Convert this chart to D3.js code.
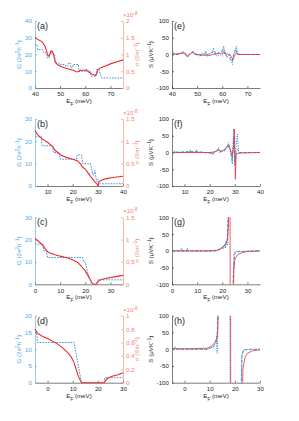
<!DOCTYPE html>
<html>
<head>
<meta charset="utf-8">
<script src="https://cdn.jsdelivr.net/npm/d3@7"></script>
<style>
body { margin: 0; background: #fff; }
svg text { font-family: "Liberation Sans", Arial, sans-serif; }
</style>
</head>
<body>
<svg id="chart" width="299" height="421"></svg>
<script>
// panel setup
const leftNames = ['(a)', '(b)', '(c)', '(d)'];
const rightNames = ['(e)', '(f)', '(g)', '(h)'];
const energyRanges = [[40, 75], [5, 40], [0, 35], [-5, 30]];
const energyTicks = [[40, 50, 60, 70], [10, 20, 30, 40], [0, 10, 20, 30], [0, 10, 20, 30]];
const gMax = [40, 30, 30, 20];
const gTicks = [[0, 10, 20, 30, 40], [0, 10, 20, 30], [0, 10, 20, 30], [0, 5, 10, 15, 20]];
const sigmaMax = [2, 1.5, 1.5, 1];
const sigmaTicks = [[0, 0.5, 1, 1.5, 2], [0, 0.5, 1, 1.5], [0, 0.5, 1, 1.5], [0, 0.2, 0.4, 0.6, 0.8, 1]];
const sTicks = [-100, -50, 0, 50, 100];

// conductance G (2e^2/h), [E_F, G]
const gA = [[40,26],[40.8,26],[41,23],[43,23],[43.5,21],[44.5,21],[45,18],[45.8,18],[46,21],[47,21],[47.2,20],[47.8,20],[48,15],[49.5,15],[49.7,14],[52,14],[52.2,13],[53,13],[53.3,15],[54,15],[54.2,12],[55,12],[55.2,14],[57.3,14],[57.5,10],[60,10],[60.2,11],[61,11],[61.2,10],[62,10],[62.2,7],[64.3,7],[64.5,11],[65.6,11],[66,8],[66.5,6],[75,6]];
const gB = [[5,22],[7.5,22],[7.8,18],[12,18],[12.3,15],[14.7,15],[15,12],[21.5,12],[21.8,14],[23.5,14],[24,10],[27,10],[27.5,8],[28,5],[28.5,5],[28.8,7],[29.2,4],[29.6,2],[30,3],[30.4,1],[40,1]];
const gC = [[0,18],[3.2,18],[3.5,15],[4.5,15],[5,12],[19,12],[19.3,10],[20,10],[21,5],[22.5,0],[24.5,0],[25,2],[35,2]];
const gD = [[-5,15],[-4.3,15],[-4,12],[10.5,12],[12,6],[13.5,0],[22.5,0],[22.8,1.5],[30,1.5]];

// conductivity sigma (x1e-8 S/m), [E_F, sigma]
const sigmaA = [[40,1.52],[40.5,1.48],[41,1.45],[42,1.42],[43,1.36],[44,1.25],[44.8,1.05],[45.3,0.95],[45.8,0.98],[46.3,1.1],[46.8,1.1],[47.3,1.02],[48,0.8],[48.6,0.72],[50,0.65],[52,0.6],[54,0.55],[55.5,0.52],[56.5,0.48],[57.5,0.5],[58,0.53],[60,0.53],[61,0.5],[62,0.45],[63,0.4],[64,0.38],[64.5,0.42],[65,0.55],[66,0.6],[68,0.66],[70,0.72],[72,0.77],[75,0.84]];
const sigmaB = [[5,1.24],[6,1.15],[8,1.05],[10,0.98],[12,0.88],[13,0.8],[15,0.7],[18,0.63],[20,0.6],[22,0.56],[23,0.5],[24,0.42],[25,0.38],[26,0.3],[27,0.22],[28,0.15],[29,0.08],[29.7,0.04],[30,0.01],[30.3,0.08],[31,0.12],[33,0.16],[36,0.19],[40,0.22]];
const sigmaC = [[0,1.03],[1,0.98],[2,0.93],[3,0.88],[4,0.8],[5,0.73],[6,0.7],[8,0.66],[10,0.63],[13,0.59],[15,0.55],[17,0.49],[18,0.43],[19,0.37],[20,0.3],[21,0.2],[22,0.1],[22.8,0.02],[23.3,0],[24.4,0],[25,0.06],[26,0.1],[28,0.13],[31,0.16],[35,0.2]];
const sigmaD = [[-5,0.8],[-4,0.74],[-2,0.69],[0,0.66],[2,0.62],[4,0.58],[6,0.52],[8,0.45],[9.5,0.38],[10.5,0.3],[11.2,0.22],[12,0.12],[12.8,0.05],[13.5,0],[22.5,0],[23,0.03],[24,0.07],[26,0.1],[28,0.12],[30,0.15]];

// Seebeck S (uV/K), [E_F, S]; null = gap
const sDotE = [[40,0],[40.5,8],[41,0],[43,2],[44.5,8],[45,0],[46,-5],[47,0],[48.3,10],[49,0],[50,3],[51,-5],[52,5],[53,-5],[53.5,10],[54,-5],[55,0],[56,8],[56.5,20],[57,0],[58,-5],[59,0],[60,-5],[60.5,25],[61,10],[61.5,0],[62,-8],[63,0],[64,-30],[64.5,0],[65,10],[65.6,25],[66,5],[67,0],[75,0]];
const sDashE = [[40,0],[41,3],[42,0],[45,6],[46,-4],[48.5,7],[49,0],[52,-3],[53.5,6],[54,0],[57,10],[57.5,0],[60.5,15],[61,0],[64,-20],[64.5,0],[65.5,15],[66,0],[75,0]];
const sRedE = [[40,0],[44.8,5],[45.5,0],[46.2,-8],[47,0],[48.3,8],[49,2],[50,0],[55,-3],[56,0],[58,2],[60.5,5],[61.5,2],[63,0],[64.2,-15],[64.8,-5],[65.3,3],[66,1],[68,0],[75,0]];

const sDotF = [[5,0],[6.5,5],[7,0],[12,0],[12.3,8],[12.6,0],[14.5,0],[14.8,8],[15.1,0],[21,0],[21.3,-8],[21.6,0],[23,5],[23.5,15],[24,0],[26,5],[27,15],[27.5,30],[28,10],[28.5,-10],[29,-35],[29.5,70],[29.8,10],[30,-20],[30.5,20],[31,55],[31.5,0],[40,0]];
const sDashF = [[5,0],[12,3],[15,3],[21,-3],[23.5,10],[24,2],[26,8],[27.5,25],[28,15],[28.5,0],[29,-25],[29.6,50],[30,-40],[30.5,0],[31,10],[32,0],[40,0]];
const sRedF = [[5,0],[20,0],[22,2],[23.5,8],[24.5,3],[26,10],[27.3,20],[28,12],[28.5,0],[29,-8],[29.5,20],[29.8,70],[30.05,0],[30.2,-80],[30.5,-5],[32,-2],[40,0]];

const sDotG = [[0,0],[3.5,0],[3.8,8],[4.1,0],[5.8,0],[6.1,8],[6.4,0],[18,0],[19,3],[20,10],[20.5,5],[21,20],[21.3,8],[21.6,30],[22,15],[22.3,40],[22.5,150],[22.6,null],[24.3,-150],[24.6,-10],[25,-3],[35,0]];
const sDashG = [[0,-1],[17,-1],[19,5],[20,12],[21,15],[21.5,25],[22,30],[22.4,150],[22.5,null],[24.1,-150],[24.5,-40],[25,-8],[26,-2],[35,-1]];
const sRedG = [[0,0],[15,0],[18,2],[19.5,6],[20.5,12],[21.5,22],[22,35],[22.4,70],[22.7,150],[23.1,150],[23.15,-150],[23.3,null],[24.4,-150],[24.6,-60],[25,-25],[26,-12],[28,-5],[30,-2],[35,0]];

const sDotH = [[-5,0],[-4.2,0],[-3.8,8],[-3.4,0],[9,0],[10,3],[11,8],[11.5,3],[12,15],[12.5,30],[12.8,5],[13,-12],[13.2,40],[13.4,150],[18,150],[18.1,-150],[22.5,-150],[22.8,-20],[23.5,-2],[30,0]];
const sDashH = [[-5,0],[9,0],[10.5,4],[11.5,10],[12.5,20],[13,45],[13.3,150],[13.5,null],[22.4,-150],[22.8,-20],[23.5,-3],[25,0],[30,0]];
const sRedH = [[-5,2],[0,1],[5,2],[9,3],[10.5,8],[11.5,15],[12.3,22],[12.8,30],[13.2,60],[13.5,150],[18.3,150],[18.35,-150],[22.9,-150],[23.2,-60],[24,-25],[25,-12],[27,-5],[30,-2]];

const gSeries = [gA, gB, gC, gD];
const sigmaSeries = [sigmaA, sigmaB, sigmaC, sigmaD];
const sDotSeries = [sDotE, sDotF, sDotG, sDotH];
const sDashSeries = [sDashE, sDashF, sDashG, sDashH];
const sRedSeries = [sRedE, sRedF, sRedG, sRedH];

const BLUE = '#3f95d8', BLUE_AX = '#4da6e2', RED = '#f0282c', SALMON = '#f3846f', INK = '#262626';
const LX = [35, 123], RX = [172, 260];
const ROWS = [21, 119, 217.3, 315.7], PH = 67;
const FS = 6.2;

const svg = d3.select('#chart');

function styleAxis(g, color){
    g.select('.domain').attr('stroke', color).attr('stroke-width', 0.6);
    g.selectAll('.tick line').attr('stroke', color).attr('stroke-width', 0.6);
    g.selectAll('.tick text').attr('fill', color).attr('font-size', FS).attr('font-family', '"Liberation Sans", Arial, sans-serif');
}

function addClip(id, x0, x1, top){
    svg.append('clipPath').attr('id', id)
    .append('rect').attr('x', x0).attr('y', top).attr('width', x1 - x0).attr('height', PH);
}

// text with superscript parts: parts = [[text, sup?], ...]
function richText(g, parts){
    parts.forEach(p => {
        const t = g.append('tspan').text(p[0]);
        if (p[1] === 'sup') t.attr('font-size', FS * 0.72).attr('baseline-shift', 'super');
        if (p[1] === 'sub') t.attr('font-size', FS * 0.72).attr('baseline-shift', 'sub');
    });
}

function xTitle(cx, y){
    const t = svg.append('text').attr('x', cx).attr('y', y).attr('text-anchor', 'middle')
    .attr('font-size', FS).attr('fill', INK);
    richText(t, [['E'], ['F', 'sub'], [' (meV)']]);
}

function panelLabel(x, y, s){
    svg.append('text').attr('x', x).attr('y', y).attr('font-size', 9)
    .attr('font-family', '"Liberation Serif", "DejaVu Serif", serif').attr('fill', INK).text(s);
}

/**
 * conductance + conductivity panel
 */
function drawLeft(i){
    const top = ROWS[i], bottom = top + PH;
    const x = d3.scaleLinear().domain(energyRanges[i]).range(LX);
    const yG = d3.scaleLinear().domain([0, gMax[i]]).range([bottom, top]);
    const yS = d3.scaleLinear().domain([0, sigmaMax[i]]).range([bottom, top]);

    const gx = svg.append('g').attr('transform', `translate(0,${bottom})`)
    .call(d3.axisBottom(x).tickValues(energyTicks[i]).tickSize(-2).tickSizeOuter(0).tickPadding(4).tickFormat(d => d));
    styleAxis(gx, INK);

    const gl = svg.append('g').attr('transform', `translate(${LX[0]},0)`)
    .call(d3.axisLeft(yG).tickValues(gTicks[i]).tickSize(-2).tickSizeOuter(0).tickPadding(3).tickFormat(d => d));
    styleAxis(gl, BLUE_AX);

    const gr = svg.append('g').attr('transform', `translate(${LX[1]},0)`)
    .call(d3.axisRight(yS).tickValues(sigmaTicks[i]).tickSize(-2).tickSizeOuter(0).tickPadding(3).tickFormat(d => d));
    styleAxis(gr, SALMON);

    const clipId = 'clipL' + i;
    addClip(clipId, LX[0], LX[1], top - 1);

    svg.append('path').datum(gSeries[i])
    .attr('clip-path', `url(#${clipId})`)
    .attr('fill', 'none').attr('stroke', BLUE).attr('stroke-width', 1)
    .attr('stroke-dasharray', '1.6,1.2')
    .attr('d', d3.line().x(d => x(d[0])).y(d => yG(d[1])));

    svg.append('path').datum(sigmaSeries[i])
    .attr('fill', 'none').attr('stroke', RED).attr('stroke-width', 1.1)
    .attr('d', d3.line().x(d => x(d[0])).y(d => yS(d[1])));

    // exponent
    const ex = svg.append('text').attr('x', LX[1]).attr('y', top - 4)
    .attr('font-size', FS).attr('fill', SALMON);
    richText(ex, [['\u00d710'], ['-8', 'sup']]);

    // y titles
    const gt = svg.append('text').attr('transform', `translate(21,${top + PH / 2}) rotate(-90)`)
    .attr('text-anchor', 'middle').attr('font-size', FS).attr('fill', BLUE_AX);
    richText(gt, [['G (2e'], ['2', 'sup'], ['h'], ['\u22121', 'sup'], [')']]);

    const st = svg.append('text').attr('transform', `translate(139,${top + PH / 2}) rotate(-90)`)
    .attr('text-anchor', 'middle').attr('font-size', FS).attr('fill', SALMON);
    richText(st, [['\u03c3 (Sm'], ['\u22121', 'sup'], [')']]);

    xTitle((LX[0] + LX[1]) / 2, bottom + 15);
    panelLabel(LX[0] + 2, top + 8, leftNames[i]);
}

/**
 * Seebeck panel
 */
function drawRight(i){
    const top = ROWS[i], bottom = top + PH;
    const x = d3.scaleLinear().domain(energyRanges[i]).range(RX);
    const y = d3.scaleLinear().domain([-100, 100]).range([bottom, top]);

    const gx = svg.append('g').attr('transform', `translate(0,${bottom})`)
    .call(d3.axisBottom(x).tickValues(energyTicks[i]).tickSize(-2).tickSizeOuter(0).tickPadding(4).tickFormat(d => d));
    styleAxis(gx, INK);

    const gl = svg.append('g').attr('transform', `translate(${RX[0]},0)`)
    .call(d3.axisLeft(y).tickValues(sTicks).tickSize(-2).tickSizeOuter(0).tickPadding(3).tickFormat(d => d));
    styleAxis(gl, INK);

    const clipId = 'clipR' + i;
    addClip(clipId, RX[0], RX[1], top);

    const line = d3.line().defined(d => d[1] !== null).x(d => x(d[0])).y(d => y(d[1]));
    const plot = svg.append('g').attr('clip-path', `url(#${clipId})`);

    plot.append('path').datum(sDotSeries[i])
    .attr('fill', 'none').attr('stroke', BLUE).attr('stroke-width', 1)
    .attr('stroke-dasharray', '1.2,1.2').attr('d', line);

    plot.append('path').datum(sDashSeries[i])
    .attr('fill', 'none').attr('stroke', BLUE).attr('stroke-width', 1)
    .attr('stroke-dasharray', '3,1.6').attr('d', line);

    plot.append('path').datum(sRedSeries[i])
    .attr('fill', 'none').attr('stroke', RED).attr('stroke-width', 0.9)
    .attr('stroke-opacity', 0.85).attr('d', line);

    const st = svg.append('text').attr('transform', `translate(153,${top + PH / 2}) rotate(-90)`)
    .attr('text-anchor', 'middle').attr('font-size', FS).attr('fill', INK);
    richText(st, [['S (\u03bcVK'], ['\u22121', 'sup'], [')']]);

    xTitle((RX[0] + RX[1]) / 2, bottom + 15);
    panelLabel(RX[0] + 2, top + 8, rightNames[i]);
}

for (let i = 0; i < 4; i++){
    drawLeft(i);
    drawRight(i);
}
</script>
</body>
</html>
